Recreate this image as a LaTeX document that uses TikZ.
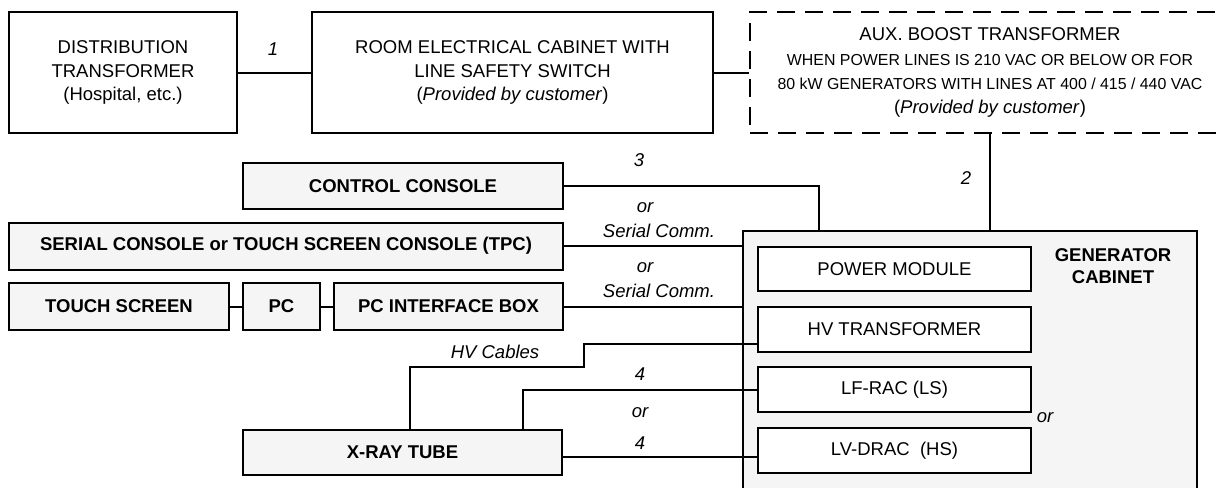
\documentclass[tikz,border=0pt]{standalone}
\usepackage{fontspec}
\setmainfont{Liberation Sans}
\definecolor{boxgrey}{HTML}{F5F5F5}

\begin{document}
\begin{tikzpicture}[x=1pt,y=1pt,yscale=-1,xscale=1,
    plainbox/.style={draw, line width=2pt, fill=white, inner sep=0pt, align=center, font=\fontsize{18.5}{23.5}\selectfont},
    greybox/.style={plainbox, fill=boxgrey, font=\fontsize{18.5}{23.5}\selectfont\bfseries},
    dashbox/.style={plainbox, dash pattern=on 18pt off 10pt},
    wire/.style={line width=2pt},
    note/.style={inner sep=0pt, font=\fontsize{18.5}{23.5}\selectfont\itshape}]
    \useasboundingbox (0,0) rectangle (1225,487);
    \clip (0,0) rectangle (1225,487);

    %Shape: Rectangle [top row]
    \node [plainbox, minimum width=228, minimum height=121] (dist) at (123,72.5) {DISTRIBUTION\\TRANSFORMER\\(Hospital, etc.)};
    \node [plainbox, minimum width=401, minimum height=121] (room) at (512.5,72.5) {ROOM ELECTRICAL CABINET WITH\\LINE SAFETY SWITCH\\(\textit{Provided by customer})};
    \node [dashbox, minimum width=480, minimum height=121] (aux) at (990,72.5) {AUX. BOOST TRANSFORMER\\[1pt]{\fontsize{15.9}{24}\selectfont WHEN POWER LINES IS 210 VAC OR BELOW OR FOR}\\[1pt]{\fontsize{15.9}{24}\selectfont 80 kW GENERATORS WITH LINES AT 400 / 415 / 440 VAC}\\(\textit{Provided by customer})};

    %Shape: Rectangle [consoles]
    \node [greybox, minimum width=320, minimum height=46] (ctrl) at (403,186) {CONTROL CONSOLE};
    \node [greybox, minimum width=554, minimum height=47] (serial) at (286,246) {SERIAL CONSOLE or TOUCH SCREEN CONSOLE (TPC)};
    \node [greybox, minimum width=220, minimum height=47] (touch) at (119,306.5) {TOUCH SCREEN};
    \node [greybox, minimum width=77, minimum height=47] (pc) at (281.5,306.5) {PC};
    \node [greybox, minimum width=229, minimum height=47] (pcbox) at (448.5,306.5) {PC INTERFACE BOX};
    \node [greybox, minimum width=319, minimum height=45] (xray) at (402.5,452.5) {X-RAY TUBE};

    %Shape: Rectangle [generator cabinet]
    \node [greybox, minimum width=454, minimum height=269] (gencab) at (970,365.5) {};
    \node [plainbox, minimum width=273, minimum height=44] (powmod) at (894.5,269) {POWER MODULE};
    \node [plainbox, minimum width=273, minimum height=45] (hvt) at (894.5,329.5) {HV TRANSFORMER};
    \node [plainbox, minimum width=273, minimum height=45] (lfrac) at (894.5,389.5) {LF-RAC (LS)};
    \node [plainbox, minimum width=273, minimum height=45] (lvdrac) at (894.5,450.5) {LV-DRAC\ \ (HS)};
    % Text Node
    \node [align=center, inner sep=0pt, font=\fontsize{18.5}{22}\selectfont\bfseries] (genlabel) at (1113,266) {GENERATOR\\CABINET};

    %Straight Lines
    \coordinate (ctrlin) at (819,231);
    \coordinate (hvout) at (410,430);
    \coordinate (hvin) at (758,344);
    \coordinate (lfout) at (523,430);
    \draw [wire] (dist.east) -- (room.west);
    \draw [wire] (room.east) -- (aux.west);
    \draw [wire] (aux.south) -- (aux.south |- gencab.north);
    \draw [wire] (ctrl.east) -| (ctrlin);
    \draw [wire] (serial.east) -- (serial.east -| gencab.west);
    \draw [wire] (pcbox.east) -- (pcbox.east -| gencab.west);
    \draw [wire] (touch.east) -- (pc.west);
    \draw [wire] (pc.east) -- (pcbox.west);
    \draw [wire] (hvout) |- (584,367) |- (hvin);
    \draw [wire] (lfout) |- (lfrac.west);
    \draw [wire] (xray.east |- 0,457) -- (lvdrac.west |- 0,457);

    % Text Node
    \node [note] (n1) at (273,49) {1};
    \node [note] (n2) at (966,178) {2};
    \node [note] (n3) at (639,160) {3};
    \node [note] (or1) at (645,208) {or};
    \node [note] (sc1) at (659,231) {Serial Comm.};
    \node [note] (or2) at (645,268) {or};
    \node [note] (sc2) at (659,291) {Serial Comm.};
    \node [note] (hvc) at (495,352) {HV Cables};
    \node [note] (n4a) at (640,374) {4};
    \node [note] (or3) at (640,413) {or};
    \node [note] (n4b) at (640,443) {4};
    \node [note] (or4) at (1045,418) {or};
\end{tikzpicture}
\end{document}
